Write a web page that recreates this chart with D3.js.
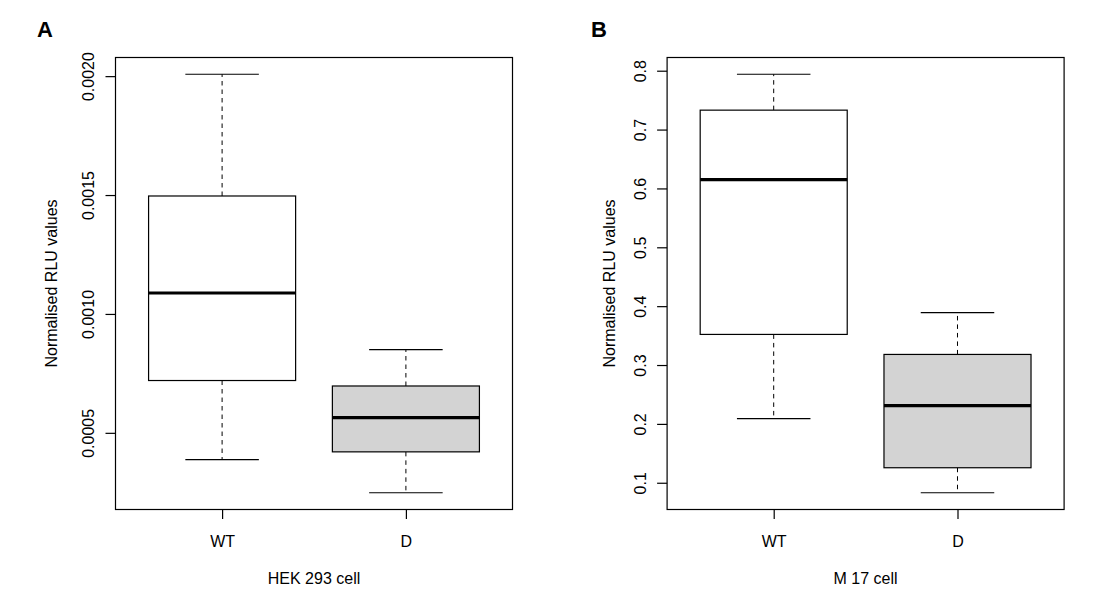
<!DOCTYPE html>
<html>
<head>
<meta charset="utf-8">
<script src="https://cdn.jsdelivr.net/npm/d3@7"></script>
<style>
  html, body { margin: 0; padding: 0; background: #fff; }
  svg { display: block; }
  text { font-family: "Liberation Sans", Arial, Helvetica, sans-serif; fill: #000; }
</style>
</head>
<body>
<svg id="chart" width="1104" height="605"></svg>
<script>
// ---- Data (five-number summaries: min, Q1, median, Q3, max) ----
const categories = ["WT", "D"];
const hekWT = [0.000387, 0.00072, 0.001088, 0.001496, 0.002008];
const hekD  = [0.000248, 0.00042, 0.000564, 0.000697, 0.00085];
const m17WT = [0.209, 0.352, 0.615, 0.733, 0.794];
const m17D  = [0.083, 0.1255, 0.231, 0.318, 0.389];
const hekTicks = [0.0005, 0.0010, 0.0015, 0.0020];
const hekTickLabels = ["0.0005", "0.0010", "0.0015", "0.0020"];
const m17Ticks = [0.1, 0.2, 0.3, 0.4, 0.5, 0.6, 0.7, 0.8];
const m17TickLabels = ["0.1", "0.2", "0.3", "0.4", "0.5", "0.6", "0.7", "0.8"];
const fills = ["#ffffff", "#d3d3d3"];
const panelLetters = ["A", "B"];
const xTitles = ["HEK 293 cell", "M 17 cell"];
const yTitle = "Normalised RLU values";

const svg = d3.select("#chart");
const panelW = 552;
const margin = { left: 115.5, right: 39.5, top: 57.5, bottom: 95.5 };
const H = 605;

const panels = [
  { series: [hekWT, hekD], ticks: hekTicks, labels: hekTickLabels, yTitleX: 56.5 },
  { series: [m17WT, m17D], ticks: m17Ticks, labels: m17TickLabels, yTitleX: 63.5 }
];

panels.forEach((p, pi) => {
  const g = svg.append("g").attr("transform", `translate(${pi * 551.6},0)`);
  const x0 = margin.left, x1 = panelW - margin.right;
  const y0 = H - margin.bottom, y1 = margin.top;

  const all = p.series.flat();
  const lo = d3.min(all), hi = d3.max(all), ext = (hi - lo) * 0.04;
  const y = d3.scaleLinear().domain([lo - ext, hi + ext]).range([y0, y1]);
  const x = d3.scaleLinear().domain([0.42, 2.58]).range([x0, x1]);
  const boxW = x(1.4) - x(1.0);
  const capW = x(1.2) - x(1.0);

  // boxes
  p.series.forEach((s, i) => {
    const cx = x(i + 1);
    const [mn, q1, md, q3, mx] = s;
    // whiskers (dashed)
    g.append("line").attr("x1", cx).attr("x2", cx).attr("y1", y(q3)).attr("y2", y(mx))
      .attr("stroke", "#000").attr("stroke-width", 1).attr("stroke-dasharray", "4.5,4");
    g.append("line").attr("x1", cx).attr("x2", cx).attr("y1", y(q1)).attr("y2", y(mn))
      .attr("stroke", "#000").attr("stroke-width", 1).attr("stroke-dasharray", "4.5,4");
    // caps
    [mn, mx].forEach(v => {
      g.append("line").attr("x1", cx - capW).attr("x2", cx + capW).attr("y1", y(v)).attr("y2", y(v))
        .attr("stroke", "#000").attr("stroke-width", 1.2);
    });
    // box
    g.append("rect").attr("x", cx - boxW).attr("width", 2 * boxW)
      .attr("y", y(q3)).attr("height", y(q1) - y(q3))
      .attr("fill", fills[i]).attr("stroke", "#000").attr("stroke-width", 1.2);
    // median
    g.append("line").attr("x1", cx - boxW).attr("x2", cx + boxW).attr("y1", y(md)).attr("y2", y(md))
      .attr("stroke", "#000").attr("stroke-width", 3.2);
  });

  // frame
  g.append("rect").attr("x", x0).attr("y", y1).attr("width", x1 - x0).attr("height", y0 - y1)
    .attr("fill", "none").attr("stroke", "#000").attr("stroke-width", 1.2);

  // y axis ticks
  const yAxis = d3.axisLeft(y).tickValues(p.ticks).tickSize(10).tickFormat((d, i) => p.labels[i]);
  const ya = g.append("g").attr("transform", `translate(${x0},0)`).call(yAxis);
  ya.select(".domain").remove();
  ya.selectAll(".tick line").attr("stroke", "#000").attr("stroke-width", 1.2);
  ya.selectAll(".tick text")
    .attr("x", null).attr("dy", null)
    .attr("transform", "translate(-21.5,0) rotate(-90)")
    .attr("text-anchor", "middle")
    .attr("font-size", 16)
    .attr("font-family", "Liberation Sans, Arial, sans-serif")
    .attr("fill", "#333");

  // x axis ticks
  const xAxis = d3.axisBottom(x).tickValues([1, 2]).tickSize(9.5).tickFormat((d, i) => categories[i]);
  const xa = g.append("g").attr("transform", `translate(0,${y0})`).call(xAxis);
  xa.select(".domain").remove();
  xa.selectAll(".tick line").attr("stroke", "#000").attr("stroke-width", 1.2);
  xa.selectAll(".tick text")
    .attr("y", 37).attr("dy", null)
    .attr("font-size", 16)
    .attr("font-family", "Liberation Sans, Arial, sans-serif")
    .attr("fill", "#222");

  // titles
  g.append("text").attr("x", (x0 + x1) / 2).attr("y", 583.5)
    .attr("text-anchor", "middle").attr("font-size", 16).attr("fill", "#222").text(xTitles[pi]);
  g.append("text").attr("transform", `translate(${p.yTitleX},${(y0 + y1) / 2}) rotate(-90)`)
    .attr("text-anchor", "middle").attr("font-size", 16).attr("fill", "#222").text(yTitle);
  g.append("text").attr("x", pi === 0 ? 37 : 39.5).attr("y", 37)
    .attr("font-size", 22).attr("font-weight", "bold").text(panelLetters[pi]);
});
</script>
</body>
</html>
